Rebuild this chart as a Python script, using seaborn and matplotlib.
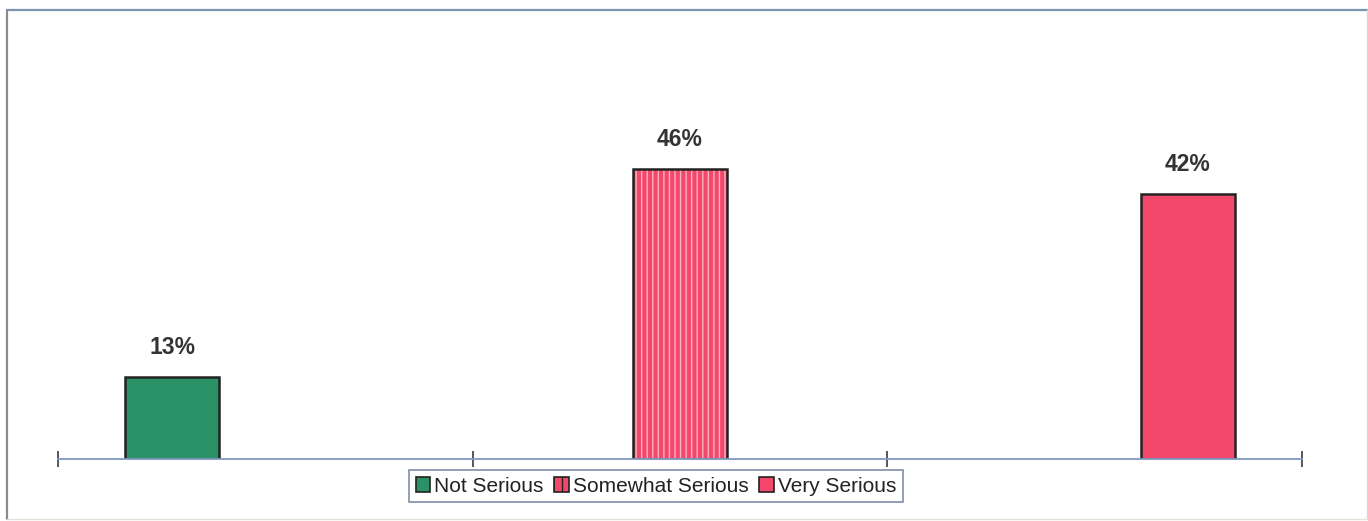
import matplotlib
matplotlib.use("Agg")
import matplotlib.pyplot as plt
import matplotlib.patches as mpatches
from matplotlib.lines import Line2D
import seaborn as sns
import pandas as pd

categories = ["Not Serious", "Somewhat Serious", "Very Serious"]
values = [13, 46, 42]
labels = ["13%", "46%", "42%"]

green = "#2a9266"
pink = "#f4476c"
stripe = "#fbb2c2"
colors = [green, pink, pink]

sns.set_theme(style="white")
plt.rcParams["font.family"] = ["Liberation Sans", "DejaVu Sans"]

df = pd.DataFrame({"group": categories, "series": categories, "pct": values})

fig = plt.figure(figsize=(13.68, 5.21), dpi=100)
ax = fig.add_axes([58 / 1368, 62 / 521, (1302 - 58) / 1368, (459 - 30) / 521])

sns.barplot(data=df, x="group", y="pct", hue="series", order=categories,
            hue_order=categories, palette=colors, saturation=1, dodge=True, width=0.675,
            edgecolor="#222222", linewidth=1.8, legend=False, ax=ax)

bars = [p for p in ax.patches if p.get_height() > 0]
bars.sort(key=lambda p: p.get_x())
for bar, lab, name in zip(bars, labels, categories):
    if name == "Somewhat Serious":
        bar.set_hatch("|||")
        bar.set_edgecolor(stripe)
        bar.set_linewidth(0)
        outline = mpatches.Rectangle((bar.get_x(), 0), bar.get_width(), bar.get_height(),
                                     fill=False, edgecolor="#222222", linewidth=1.8,
                                     zorder=bar.get_zorder() + 0.1)
        ax.add_patch(outline)
    ax.annotate(lab, (bar.get_x() + bar.get_width() / 2, bar.get_height()),
                xytext=(0, 13), textcoords="offset points", ha="center", va="bottom",
                fontsize=16.5, fontweight="bold", color="#333333")

ax.set_ylim(0, 68)
ax.set_xlim(-0.5, 2.5)
ax.set_xticks([-0.5, 0.5, 1.5, 2.5])
ax.set_xticklabels([])
ax.set_yticks([])
ax.set_xlabel("")
ax.set_ylabel("")
for side in ["top", "left", "right"]:
    ax.spines[side].set_visible(False)
ax.spines["bottom"].set_color("#7f9ac0")
ax.spines["bottom"].set_linewidth(1.3)
ax.tick_params(axis="x", direction="inout", length=11, width=1.4, color="#555566", bottom=True)

handles = [
    mpatches.Patch(facecolor=green, edgecolor="#222222", linewidth=1.2, label=categories[0]),
    mpatches.Patch(facecolor=pink, edgecolor="#222222", hatch="||", linewidth=1.2, label=categories[1]),
    mpatches.Patch(facecolor=pink, edgecolor="#222222", linewidth=1.2, label=categories[2]),
]
leg = fig.legend(handles=handles, loc="center", bbox_to_anchor=(656 / 1368, 1 - 486 / 521),
                 ncol=3, frameon=True, fancybox=False, fontsize=15, handlelength=0.7,
                 handleheight=0.7, handletextpad=0.2, columnspacing=0.5, borderpad=0.3,
                 labelcolor="#222222")
leg.get_frame().set_edgecolor("#556688")
leg.get_frame().set_linewidth(1.1)

# outer chart border: stronger top/left, faint right/bottom
fig.add_artist(Line2D([7 / 1368, 1367 / 1368], [1 - 10 / 521] * 2, transform=fig.transFigure,
                      color="#7d95b5", linewidth=1.6))
fig.add_artist(Line2D([7 / 1368] * 2, [1 - 10 / 521, 1 - 519 / 521], transform=fig.transFigure,
                      color="#8c8c8c", linewidth=1.6))
fig.add_artist(Line2D([1366.5 / 1368] * 2, [1 - 10 / 521, 1 - 519 / 521], transform=fig.transFigure,
                      color="#d8d8d8", linewidth=1.0))
fig.add_artist(Line2D([7 / 1368, 1367 / 1368], [1 - 519 / 521] * 2, transform=fig.transFigure,
                      color="#e6e0d8", linewidth=1.0))

fig.savefig("out.png", dpi=100)
